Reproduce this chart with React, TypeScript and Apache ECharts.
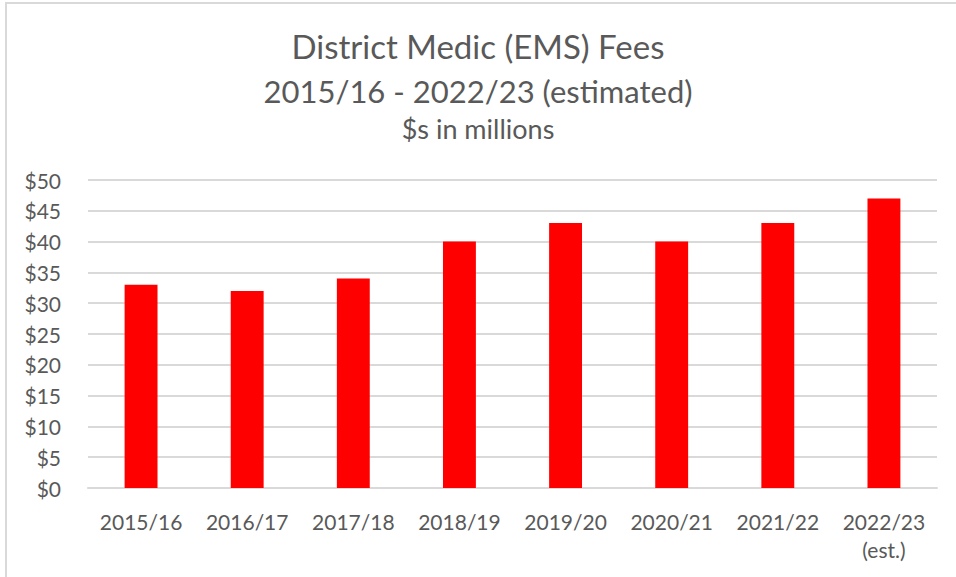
import React, { useEffect, useRef } from "react";
import * as echarts from "echarts";

const categories = ["2015/16", "2016/17", "2017/18", "2018/19", "2019/20", "2020/21", "2021/22", "2022/23\n(est.)"];
const fees = [33, 32, 34, 40, 43, 40, 43, 47];
const titleLines = ["District Medic (EMS) Fees", "2015/16 - 2022/23 (estimated)", "$s in millions"];

const FONT = "Lato, 'Open Sans', sans-serif";

export default function App() {
  const ref = useRef<HTMLDivElement>(null);
  useEffect(() => {
    document.body.style.margin = "0";
    const chart = echarts.init(ref.current!, null, { renderer: "svg" });
    chart.setOption({
      animation: false,
      backgroundColor: "#ffffff",
      graphic: [
        {
          type: "rect",
          shape: { x: 6, y: 3, width: 1200, height: 1200 },
          style: { fill: "none", stroke: "#d9d9d9", lineWidth: 2 },
          silent: true,
        },
        {
          type: "text",
          left: "center",
          top: 29,
          style: { text: titleLines[0], font: `33px ${FONT}`, fill: "#595959" },
        },
        {
          type: "text",
          left: "center",
          top: 75,
          style: { text: titleLines[1], font: `31px ${FONT}`, fill: "#595959" },
        },
        {
          type: "text",
          left: "center",
          top: 115,
          style: { text: titleLines[2], font: `27px ${FONT}`, fill: "#595959" },
        },
      ],
      grid: { left: 88, right: 19, top: 180, bottom: 89, containLabel: false },
      xAxis: {
        type: "category",
        data: categories,
        axisLine: { show: true, lineStyle: { color: "#d9d9d9", width: 2 } },
        axisTick: { show: false },
        axisLabel: {
          color: "#595959",
          fontSize: 21,
          fontFamily: FONT,
          margin: 19,
          lineHeight: 28,
          verticalAlign: "top",
          interval: 0,
        },
      },
      yAxis: {
        type: "value",
        min: 0,
        max: 50,
        interval: 5,
        axisLine: { show: false },
        axisTick: { show: false },
        splitLine: { lineStyle: { color: "#d9d9d9", width: 2 } },
        axisLabel: {
          color: "#595959",
          fontSize: 21,
          fontFamily: FONT,
          margin: 27,
          formatter: (v: number) => "$" + v,
        },
      },
      series: [
        {
          type: "bar",
          data: fees,
          barWidth: "31%",
          itemStyle: { color: "#ff0000" },
        },
      ],
    });
    return () => chart.dispose();
  }, []);
  return <div ref={ref} style={{ width: 956, height: 577 }} />;
}
